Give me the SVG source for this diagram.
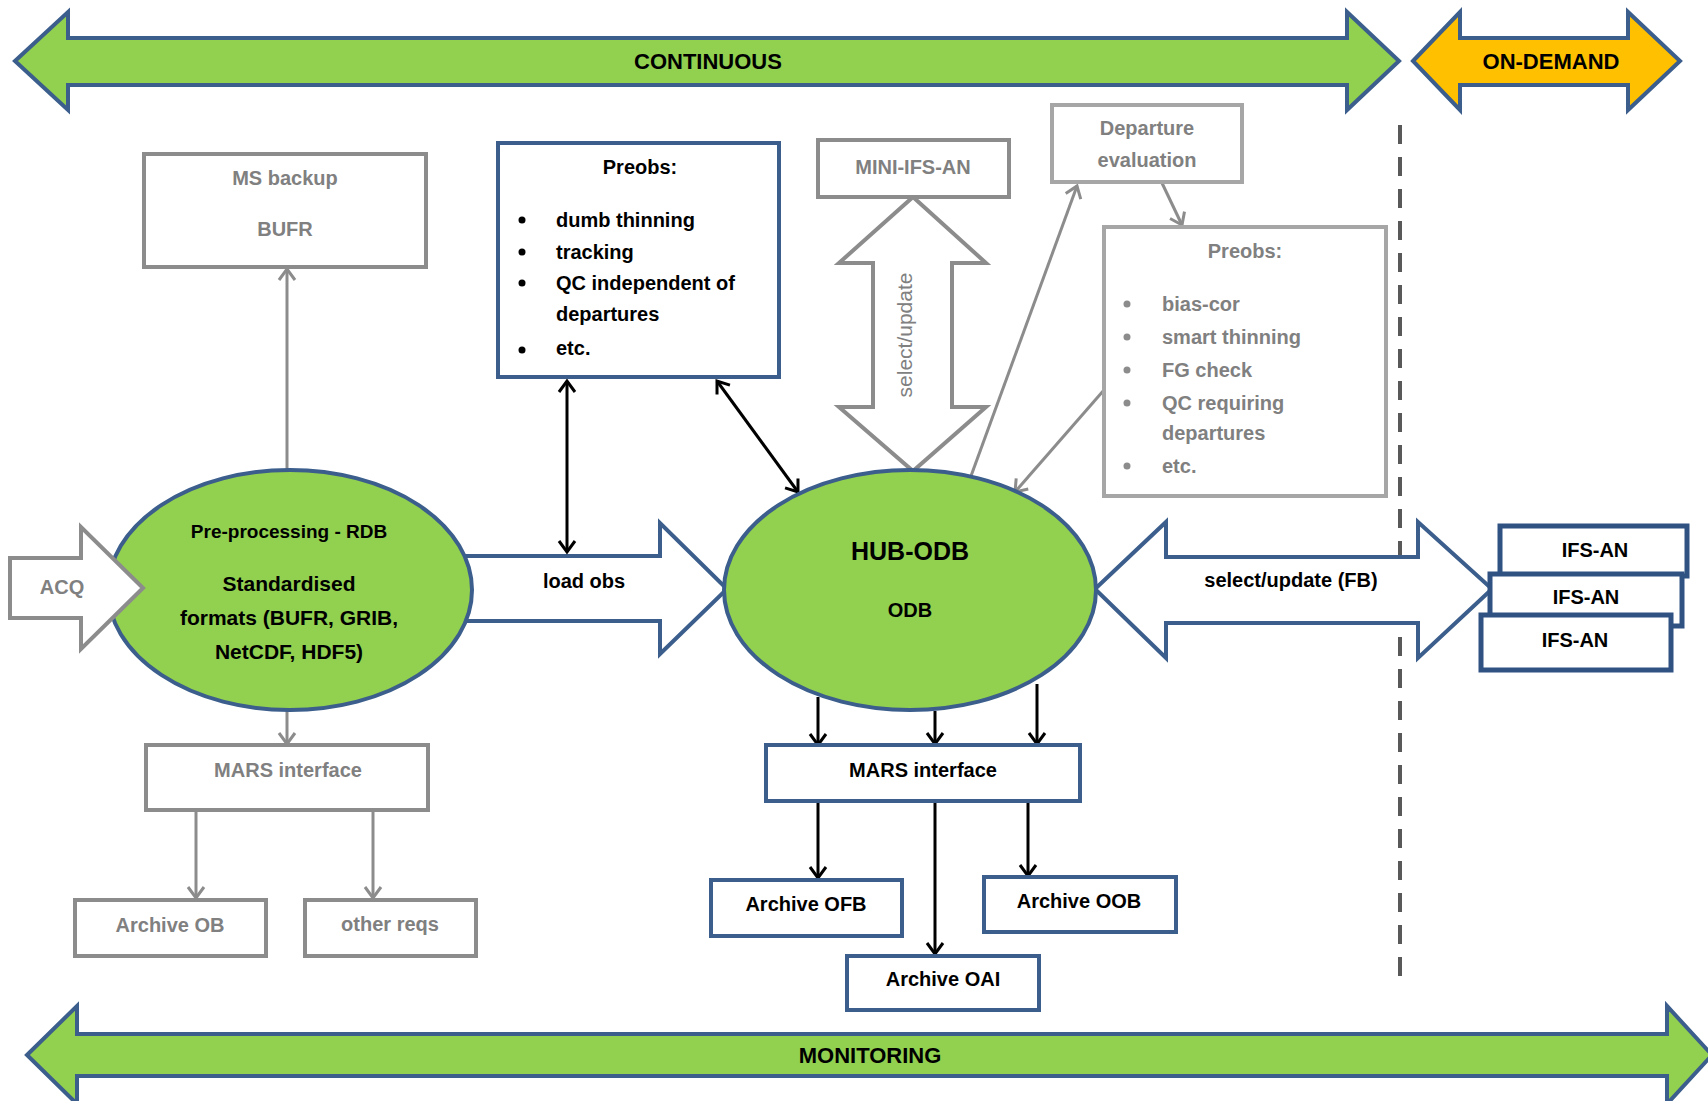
<svg xmlns="http://www.w3.org/2000/svg" width="1708" height="1101" viewBox="0 0 1708 1101">
<defs>
<style>
text{font-family:"Liberation Sans",Arial,sans-serif;font-weight:bold;font-size:20px;text-anchor:middle;fill:#000}
.g{fill:#808080}
.s{text-anchor:start}
.big{font-size:22px}
.band{stroke:#3B5E8C;stroke-width:4;stroke-linejoin:miter}
.ell{fill:#92D050;stroke:#3B5E8C;stroke-width:4}
.bbox{fill:#fff;stroke:#3B5E8C;stroke-width:4}
.ifs{fill:#fff;stroke:#2F5283;stroke-width:5}
.gbox{fill:#fff;stroke:#8C8C8C;stroke-width:4}
.lbox{fill:#fff;stroke:#A6A6A6;stroke-width:4}
.blk{stroke:#000;stroke-width:3;fill:none}
.gry{stroke:#8C8C8C;stroke-width:3;fill:none}
.garrow{fill:#fff;stroke:#8C8C8C;stroke-width:4}
.barrow{fill:#fff;stroke:#3B5E8C;stroke-width:4}
.dot{fill:#000}
.gdot{fill:#8C8C8C}
</style>
<marker id="ak" viewBox="-14 -10 17 20" refX="0" refY="0" markerWidth="17" markerHeight="20" markerUnits="userSpaceOnUse" orient="auto-start-reverse">
<path d="M-11,-8 L0,0 L-11,8" fill="none" stroke="#000" stroke-width="3"/>
</marker>
<marker id="ag" viewBox="-14 -10 17 20" refX="0" refY="0" markerWidth="17" markerHeight="20" markerUnits="userSpaceOnUse" orient="auto-start-reverse">
<path d="M-11,-8 L0,0 L-11,8" fill="none" stroke="#8C8C8C" stroke-width="3"/>
</marker>
</defs>

<rect width="1708" height="1101" fill="#fff"/>

<!-- phase bands -->
<g id="continuous">
<polygon class="band" fill="#92D050" points="15,61 68,12 68,38 1347,38 1347,12 1399,61 1347,110 1347,85 68,85 68,110"/>
<text class="big" x="708" y="69">CONTINUOUS</text>
</g>
<g id="on-demand">
<polygon class="band" fill="#FFC000" points="1413,61 1460,12 1460,38 1628,38 1628,12 1680,61 1628,110 1628,85 1460,85 1460,110"/>
<text class="big" x="1551" y="69">ON-DEMAND</text>
</g>
<g id="monitoring">
<polygon class="band" fill="#92D050" points="27,1055 77,1006 77,1034 1667,1034 1667,1006 1712,1055 1667,1104 1667,1076 77,1076 77,1104"/>
<text class="big" x="870" y="1063">MONITORING</text>
</g>

<g id="divider">
<line x1="1400" y1="125" x2="1400" y2="988" stroke="#595959" stroke-width="4" stroke-dasharray="19 13"/>
</g>

<!-- connectors -->
<g id="connectors">
<polygon id="load-obs" class="barrow" points="462,556 660,556 660,523 727,589 660,654 660,621 462,621"/>
<text x="584" y="588">load obs</text>
<polygon id="select-update-fb" class="barrow" points="1095,589 1166,522 1166,557 1418,557 1418,522 1492,589 1418,658 1418,623 1166,623 1166,658"/>
<text x="1291" y="587">select/update (FB)</text>
<polygon id="select-update" class="garrow" points="913,197 986,263 952,263 952,407 986,407 913,471 839,407 873,407 873,263 839,263"/>
<text class="g" style="font-weight:normal;font-size:21px" transform="translate(912,335) rotate(-90)">select/update</text>

<line class="gry" x1="287" y1="470" x2="287" y2="269" marker-end="url(#ag)"/>
<line class="gry" x1="287" y1="710" x2="287" y2="744" marker-end="url(#ag)"/>
<line class="gry" x1="196" y1="810" x2="196" y2="898" marker-end="url(#ag)"/>
<line class="gry" x1="373" y1="810" x2="373" y2="898" marker-end="url(#ag)"/>
<line class="gry" x1="971" y1="476" x2="1077" y2="186" marker-end="url(#ag)"/>
<line class="gry" x1="1162" y1="183" x2="1182" y2="225" marker-end="url(#ag)"/>
<line class="gry" x1="1104" y1="390" x2="1015" y2="492" marker-end="url(#ag)"/>

<line class="blk" x1="567" y1="381" x2="567" y2="552" marker-start="url(#ak)" marker-end="url(#ak)"/>
<line class="blk" x1="717" y1="381" x2="798" y2="492" marker-start="url(#ak)" marker-end="url(#ak)"/>
<line class="blk" x1="818" y1="697" x2="818" y2="745" marker-end="url(#ak)"/>
<line class="blk" x1="935" y1="711" x2="935" y2="744" marker-end="url(#ak)"/>
<line class="blk" x1="1037" y1="684" x2="1037" y2="744" marker-end="url(#ak)"/>
<line class="blk" x1="818" y1="801" x2="818" y2="878" marker-end="url(#ak)"/>
<line class="blk" x1="935" y1="801" x2="935" y2="954" marker-end="url(#ak)"/>
<line class="blk" x1="1028" y1="801" x2="1028" y2="876" marker-end="url(#ak)"/>
</g>

<!-- nodes -->
<g id="preprocessing-rdb">
<ellipse class="ell" cx="290" cy="590" rx="182" ry="120"/>
<text x="289" y="538" style="font-size:19px">Pre-processing - RDB</text>
<text x="289" y="591" style="font-size:21px">Standardised</text>
<text x="289" y="625" style="font-size:21px">formats (BUFR, GRIB,</text>
<text x="289" y="659" style="font-size:21px">NetCDF, HDF5)</text>
</g>

<g id="acq">
<polygon class="garrow" points="10,558 81,558 81,527 143,588 81,649 81,618 10,618"/>
<text class="g" x="62" y="594">ACQ</text>
</g>

<g id="hub-odb">
<ellipse class="ell" cx="910" cy="590" rx="186" ry="120"/>
<text x="910" y="560" style="font-size:25px">HUB-ODB</text>
<text x="910" y="617">ODB</text>
</g>

<g id="ms-backup">
<rect class="gbox" x="144" y="154" width="282" height="113"/>
<text class="g" x="285" y="185">MS backup</text>
<text class="g" x="285" y="236">BUFR</text>
</g>

<g id="preobs-continuous">
<rect class="bbox" x="498" y="143" width="281" height="234"/>
<text x="640" y="174">Preobs:</text>
<circle class="dot" cx="522" cy="220" r="3.5"/>
<circle class="dot" cx="522" cy="252" r="3.5"/>
<circle class="dot" cx="522" cy="283" r="3.5"/>
<circle class="dot" cx="522" cy="350" r="3.5"/>
<text class="s" x="556" y="227">dumb thinning</text>
<text class="s" x="556" y="259">tracking</text>
<text class="s" x="556" y="290">QC independent of</text>
<text class="s" x="556" y="321">departures</text>
<text class="s" x="556" y="355">etc.</text>
</g>

<g id="mini-ifs-an">
<rect class="gbox" x="818" y="140" width="191" height="57"/>
<text class="g" x="913" y="174">MINI-IFS-AN</text>
</g>

<g id="departure-evaluation">
<rect class="lbox" x="1052" y="105" width="190" height="77"/>
<text class="g" x="1147" y="135">Departure</text>
<text class="g" x="1147" y="167">evaluation</text>
</g>

<g id="preobs-departures">
<rect class="lbox" x="1104" y="227" width="282" height="269"/>
<text class="g" x="1245" y="258">Preobs:</text>
<circle class="gdot" cx="1127" cy="304" r="3.5"/>
<circle class="gdot" cx="1127" cy="337" r="3.5"/>
<circle class="gdot" cx="1127" cy="370" r="3.5"/>
<circle class="gdot" cx="1127" cy="403" r="3.5"/>
<circle class="gdot" cx="1127" cy="466" r="3.5"/>
<text class="g s" x="1162" y="311">bias-cor</text>
<text class="g s" x="1162" y="344">smart thinning</text>
<text class="g s" x="1162" y="377">FG check</text>
<text class="g s" x="1162" y="410">QC requiring</text>
<text class="g s" x="1162" y="440">departures</text>
<text class="g s" x="1162" y="473">etc.</text>
</g>

<g id="ifs-an-1">
<rect class="ifs" x="1500" y="526" width="187" height="50"/>
<text x="1595" y="557">IFS-AN</text>
</g>
<g id="ifs-an-2">
<rect class="ifs" x="1490" y="574" width="192" height="52"/>
<text x="1586" y="604">IFS-AN</text>
</g>
<g id="ifs-an-3">
<rect class="ifs" x="1481" y="615" width="190" height="55"/>
<text x="1575" y="647">IFS-AN</text>
</g>

<g id="mars-interface-rdb">
<rect class="gbox" x="146" y="745" width="282" height="65"/>
<text class="g" x="288" y="777">MARS interface</text>
</g>
<g id="archive-ob">
<rect class="gbox" x="75" y="900" width="191" height="56"/>
<text class="g" x="170" y="932">Archive OB</text>
</g>
<g id="other-reqs">
<rect class="gbox" x="305" y="900" width="171" height="56"/>
<text class="g" x="390" y="931">other reqs</text>
</g>

<g id="mars-interface-odb">
<rect class="bbox" x="766" y="745" width="314" height="56"/>
<text x="923" y="777">MARS interface</text>
</g>
<g id="archive-ofb">
<rect class="bbox" x="711" y="880" width="191" height="56"/>
<text x="806" y="911">Archive OFB</text>
</g>
<g id="archive-oob">
<rect class="bbox" x="984" y="877" width="192" height="55"/>
<text x="1079" y="908">Archive OOB</text>
</g>
<g id="archive-oai">
<rect class="bbox" x="847" y="956" width="192" height="54"/>
<text x="943" y="986">Archive OAI</text>
</g>
</svg>
